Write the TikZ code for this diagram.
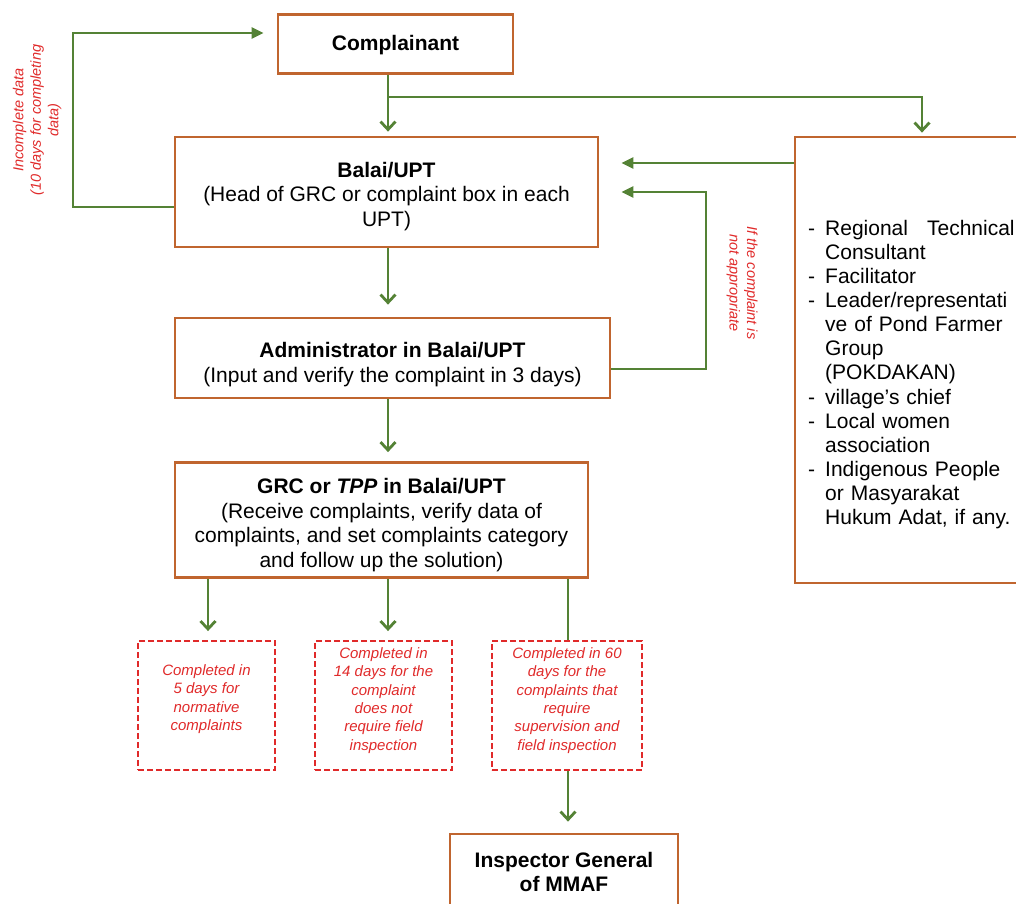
\documentclass[tikz,border=0pt]{standalone}
\usepackage{fontspec}
\setmainfont{Liberation Sans}
\usetikzlibrary{arrows.meta,calc}
\definecolor{boxor}{HTML}{C0652F}
\definecolor{arrgreen}{HTML}{548235}
\definecolor{notered}{HTML}{E02A2A}
\newcommand{\itm}[1]{\makebox[17pt][l]{-}#1}
\newcommand{\cnt}[1]{\hspace*{17pt}#1}
\begin{document}
\begin{tikzpicture}[x=1pt,y=-1pt,
  plainbox/.style={draw=boxor,line width=2.8pt,fill=white,rectangle,inner sep=0pt},
  boxtext/.style={align=center,font=\fontsize{21}{24.5}\selectfont,inner sep=0pt},
  notebox/.style={draw=notered,line width=1.9pt,dash pattern=on 6pt off 3pt,rectangle,inner sep=0pt},
  notetext/.style={align=center,font=\fontsize{15}{18.3}\selectfont\itshape,text=notered,inner sep=0pt},
  flow/.style={draw=arrgreen,line width=2.8pt},
  downarr/.style={flow,-{Straight Barb[length=8pt,width=15pt]}},
  sidearr/.style={flow,-{Triangle[length=12pt,width=11pt]}},
  rotlabel/.style={text=notered,font=\fontsize{14.5}{17.5}\selectfont\itshape,align=center,inner sep=0pt}
]
\useasboundingbox (0,0) rectangle (1016,903);
\clip (0,0) rectangle (1016,903);

% coordinates
\coordinate (cx) at (388,0);
\coordinate (brk) at (388,97);
\coordinate (sx) at (922,0);
\coordinate (y163) at (0,163);
\coordinate (y192) at (0,192);
\coordinate (y369) at (0,369);
\coordinate (y207) at (0,207);
\coordinate (y33) at (0,33);
\coordinate (lx) at (706,280);
\coordinate (lx2) at (73,120);
\coordinate (c1) at (208,0);
\coordinate (c2) at (388,0);
\coordinate (c3) at (568,0);

% boxes
\node[plainbox,minimum width=235pt,minimum height=59pt] (complainant) at (395.5,44) {};
\node[boxtext] (complainantt) at (395.5,45.5) {\bfseries Complainant};
\node[plainbox,minimum width=423pt,minimum height=110pt] (balai) at (386.5,192) {};
\node[boxtext] (balait) at (386.5,196.5)
  {{\bfseries Balai/UPT}\\(Head of GRC or complaint box in each\\UPT)};
\node[plainbox,minimum width=435pt,minimum height=80pt] (admin) at (392.5,358) {};
\node[boxtext] (admint) at (392.5,364.5)
  {{\bfseries Administrator in Balai/UPT}\\(Input and verify the complaint in 3 days)};
\node[plainbox,minimum width=413pt,minimum height=115pt] (grc) at (381.5,520) {};
\node[boxtext] (grct) at (381.5,525)
  {{\bfseries GRC or \textit{TPP} in Balai/UPT}\\(Receive complaints, verify data of\\complaints, and set complaints category\\and follow up the solution)};

\node[plainbox,minimum width=235pt,minimum height=446pt] (stake) at (912.5,360) {};
\node[anchor=west,align=left,text width=210pt,inner sep=0pt,font=\fontsize{21}{24.1}\selectfont] (staketext) at (808,374.5)
  {\itm{Regional\hspace{19pt}Technical}\\
   \cnt{Consultant}\\
   \itm{Facilitator}\\
   \itm{Leader/representati}\\
   \cnt{ve of Pond Farmer}\\
   \cnt{Group}\\
   \cnt{(POKDAKAN)}\\
   \itm{village’s chief}\\
   \itm{Local women}\\
   \cnt{association}\\
   \itm{Indigenous People}\\
   \cnt{or Masyarakat}\\
   \cnt{Hukum Adat, if any.}};

\node[notebox,minimum width=137pt,minimum height=129pt] (d1) at (206.5,705.5) {};
\node[notebox,minimum width=137pt,minimum height=129pt] (d2) at (383.5,705.5) {};
\node[notebox,minimum width=150pt,minimum height=129pt] (d3) at (567,705.5) {};
\node[notetext] (d1t) at (206.5,699) {Completed in\\5 days for\\normative\\complaints};
\node[notetext] (d2t) at (383.5,700.5) {Completed in\\14 days for the\\complaint\\does not\\require field\\inspection};
\node[notetext] (d3t) at (567,700.5) {Completed in 60\\days for the\\complaints that\\require\\supervision and\\field inspection};

\node[plainbox,minimum width=228pt,minimum height=76pt] (inspector) at (564,872) {};
\node[boxtext] (inspectort) at (564,872) {\bfseries Inspector General\\\bfseries of MMAF};

\node[rotlabel,rotate=90] (lbl1) at (37,120) {Incomplete data\\(10 days for completing\\data)};
\node[rotlabel,rotate=-90] (lbl2) at (742,283) {If the complaint is\\not appropriate};

% connectors
\draw[downarr,shorten >=4pt] (complainant.south -| cx) -- (balai.north -| cx);
\draw[downarr,shorten >=3pt] (brk) -| (stake.north -| sx);
\draw[sidearr,shorten >=22pt] (stake.west |- y163) -- (balai.east |- y163);
\draw[sidearr,shorten >=22pt] (admin.east |- y369) -| (lx) |- (balai.east |- y192);
\draw[sidearr,shorten >=13pt] (balai.west |- y207) -| (lx2) |- (complainant.west |- y33);
\draw[downarr,shorten >=12pt] (balai.south -| cx) -- (admin.north -| cx);
\draw[downarr,shorten >=9pt] (admin.south -| cx) -- (grc.north -| cx);
\draw[downarr,shorten >=9pt] (grc.south -| c1) -- (d1.north -| c1);
\draw[downarr,shorten >=9pt] (grc.south -| c2) -- (d2.north -| c2);
\draw[flow] (grc.south -| c3) -- (d3.north -| c3);
\draw[downarr,shorten >=11pt] (d3.south -| c3) -- (inspector.north -| c3);
\end{tikzpicture}
\end{document}
